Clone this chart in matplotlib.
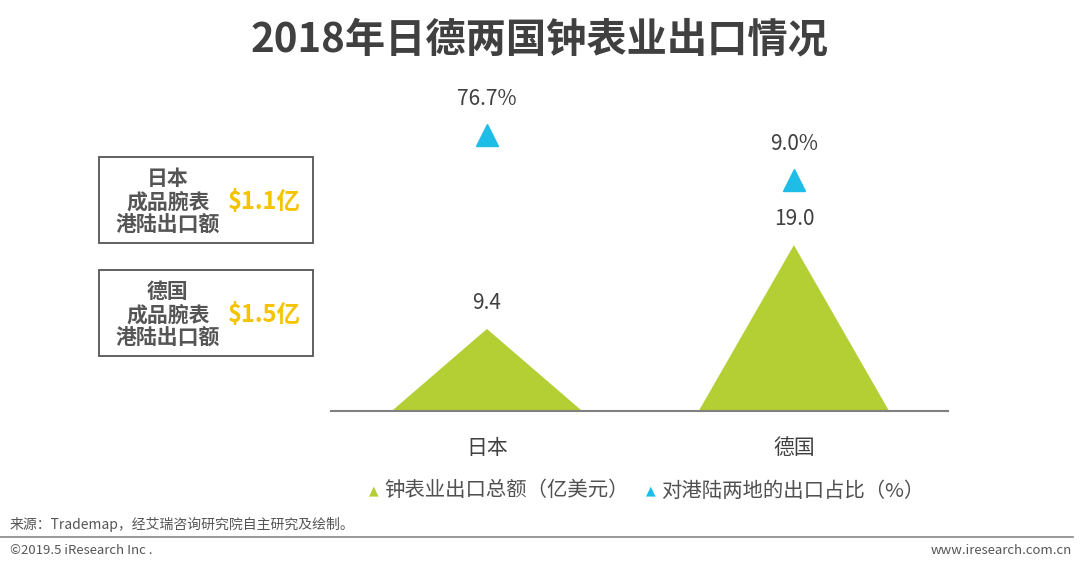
import matplotlib.pyplot as plt
from matplotlib.patches import Polygon, Rectangle

plt.rcParams['font.family'] = ['Noto Sans CJK SC', 'DejaVu Sans']

# 数据
categories = ['日本', '德国']
export_total = [9.4, 19.0]          # 钟表业出口总额（亿美元）
hk_share = [76.7, 9.0]              # 对港陆两地的出口占比（%）
box_countries = ['日本', '德国']
box_values = ['$1.1亿', '$1.5亿']

GREEN = '#B3CF33'
BLUE = '#1DBDE8'
DARK = '#404040'

W, H = 1080, 564
fig = plt.figure(figsize=(W / 100, H / 100), dpi=100)

def fx(px):
    return px / W

def fy(py):
    return 1 - py / H

# axes area in pixels: x 331..948, y 80..411
ax = fig.add_axes([fx(331), fy(411), fx(948 - 331), (411 - 80) / H])
ax.set_xlim(-0.508, 1.502)
ax.set_ylim(0, 331 / 8.73)
for s in ['top', 'left', 'right']:
    ax.spines[s].set_visible(False)
ax.spines['bottom'].set_color('#808080')
ax.spines['bottom'].set_linewidth(1.5)
ax.set_yticks([])
ax.set_xticks(range(len(categories)))
ax.set_xticklabels(categories, fontsize=15, color=DARK)
ax.tick_params(axis='x', length=0, pad=19)

half = 0.31
for i, v in enumerate(export_total):
    ax.add_patch(Polygon([(i - half, 0), (i, v), (i + half, 0)], closed=True,
                         facecolor=GREEN, edgecolor='none'))
    ax.annotate(f'{v:.1f}', (i, v), xytext=(0, 26), textcoords='offset pixels',
                ha='center', va='center', fontsize=15, color=DARK)

ax2 = ax.twinx()
ax2.set_ylim(-338, 159.4)
ax2.axis('off')
ax2.plot(range(len(categories)), hk_share, linestyle='none', marker='^',
         markersize=16, color=BLUE)
for i, v in enumerate(hk_share):
    ax2.annotate(f'{v:.1f}%', (i, v), xytext=(0, 36), textcoords='offset pixels',
                 ha='center', va='center', fontsize=15, color=DARK)

# 标题
fig.text(0.5, fy(40), '2018年日德两国钟表业出口情况', ha='center', va='center',
         fontsize=29, fontweight='bold', color=DARK)

# 左侧方框
for k, (name, val) in enumerate(zip(box_countries, box_values)):
    top = 157 + k * 113
    fig.patches.append(Rectangle((fx(99), fy(top + 86)), fx(214), 86 / H,
                                 transform=fig.transFigure, fill=False,
                                 edgecolor='#555555', linewidth=1.3))
    fig.text(fx(168), fy(top + 45), f'{name}\n成品腕表\n港陆出口额', ha='center',
             va='center', fontsize=15, fontweight='bold', color='#555555',
             linespacing=1.15)
    fig.text(fx(264), fy(top + 45), val, ha='center', va='center',
             fontsize=17, fontweight='bold', color='#F5C400')

# 图例
fig.text(fx(374), fy(491), '▲', ha='center', va='center', fontsize=9, color=GREEN,
         family=['DejaVu Sans'])
fig.text(fx(384), fy(491), '钟表业出口总额（亿美元）', ha='left', va='center',
         fontsize=14.7, color='#505050')
fig.text(fx(651), fy(491), '▲', ha='center', va='center', fontsize=9, color=BLUE,
         family=['DejaVu Sans'])
fig.text(fx(661), fy(491), '对港陆两地的出口占比（%）', ha='left', va='center',
         fontsize=14.7, color='#505050')

# 页脚
fig.text(fx(10), fy(524), '来源：Trademap，经艾瑞咨询研究院自主研究及绘制。', ha='left',
         va='center', fontsize=10, color='#555555')
fig.add_artist(plt.Line2D([0, fx(1073)], [fy(537), fy(537)], color='#888888',
                          linewidth=1.2, transform=fig.transFigure))
fig.text(fx(10), fy(550), '©2019.5 iResearch Inc .', ha='left', va='center',
         fontsize=9.5, color='#555555')
fig.text(fx(1072), fy(550), 'www.iresearch.com.cn', ha='right', va='center',
         fontsize=9.5, color='#555555')

fig.savefig('out.png', dpi=100)
